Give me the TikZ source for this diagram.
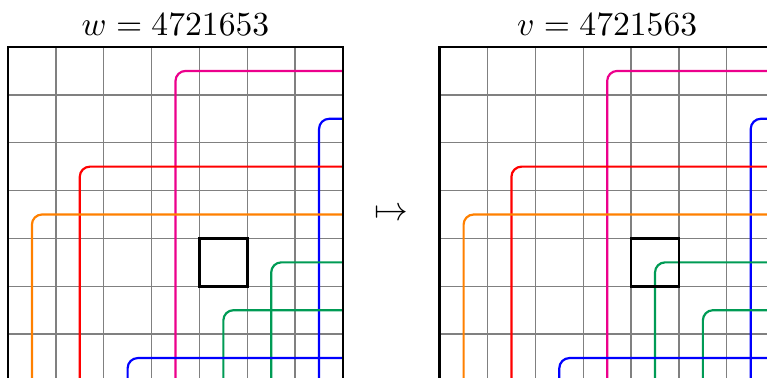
\documentclass[tikz,border=0pt]{standalone}
\definecolor{hkpink}{RGB}{236,0,140}
\definecolor{hkblue}{RGB}{0,0,255}
\definecolor{hkred}{RGB}{255,0,0}
\definecolor{hkorange}{RGB}{255,128,0}
\definecolor{hkgreen}{RGB}{0,155,85}
\tikzset{
  gridline/.style={gray, line width=0.4pt, step=0.5cm},
  frameline/.style={black, line width=0.8pt},
  hook/.style={line width=0.65pt, rounded corners=3pt},
  cellbox/.style={black, line width=0.8pt},
  title/.style={above, inner sep=3.33pt},
}
\begin{document}
\begin{tikzpicture}[x=0.5cm,y=0.5cm]
\useasboundingbox (-0.167,0.982) rectangle (15.86,-6.916);
\clip (-0.167,0.982) rectangle (15.86,-6.916);
% left grid
\begin{scope}
  \draw[gridline] (0,0) grid (7,-7);
  \draw[hook,hkpink]   (3.5,-7.5) -- (3.5,-0.5) -- (7,-0.5);
  \draw[hook,hkblue]   (6.5,-7.5) -- (6.5,-1.5) -- (7,-1.5);
  \draw[hook,hkred]    (1.5,-7.5) -- (1.5,-2.5) -- (7,-2.5);
  \draw[hook,hkorange] (0.5,-7.5) -- (0.5,-3.5) -- (7,-3.5);
  \draw[hook,hkgreen]  (5.5,-7.5) -- (5.5,-4.5) -- (7,-4.5);
  \draw[hook,hkgreen]  (4.5,-7.5) -- (4.5,-5.5) -- (7,-5.5);
  \draw[hook,hkblue]   (2.5,-7.5) -- (2.5,-6.5) -- (7,-6.5);
  \draw[cellbox] (4,-4) rectangle (5,-5);
  \draw[frameline] (0,0) rectangle (7,-7);
  \node[title] (wt) at (3.5,0) {$w = 4721653$};
\end{scope}
\node (arr) at (8,-3.5) {$\mapsto$};
% right grid
\begin{scope}[xshift=4.51cm]
  \draw[gridline] (0,0) grid (7,-7);
  \draw[hook,hkpink]   (3.5,-7.5) -- (3.5,-0.5) -- (7,-0.5);
  \draw[hook,hkblue]   (6.5,-7.5) -- (6.5,-1.5) -- (7,-1.5);
  \draw[hook,hkred]    (1.5,-7.5) -- (1.5,-2.5) -- (7,-2.5);
  \draw[hook,hkorange] (0.5,-7.5) -- (0.5,-3.5) -- (7,-3.5);
  \draw[hook,hkgreen]  (4.5,-7.5) -- (4.5,-4.5) -- (7,-4.5);
  \draw[hook,hkgreen]  (5.5,-7.5) -- (5.5,-5.5) -- (7,-5.5);
  \draw[hook,hkblue]   (2.5,-7.5) -- (2.5,-6.5) -- (7,-6.5);
  \draw[cellbox] (4,-4) rectangle (5,-5);
  \draw[frameline] (0,0) rectangle (7,-7);
  \node[title] (vt) at (3.5,0) {$v = 4721563$};
\end{scope}
\end{tikzpicture}
\end{document}
